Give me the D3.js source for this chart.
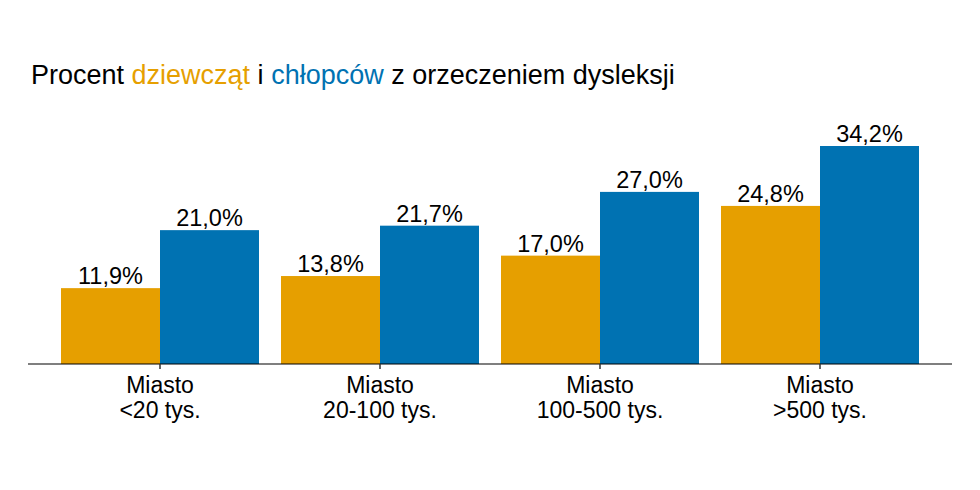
<!DOCTYPE html>
<html>
<head>
<meta charset="utf-8">
<script src="https://cdn.jsdelivr.net/npm/d3@7"></script>
<style>
  body { margin: 0; background: #fff; }
  svg text { font-family: "Liberation Sans", Arial, sans-serif; }
</style>
</head>
<body>
<div id="chart"></div>
<script>
const categories = ['Miasto\n<20 tys.', 'Miasto\n20-100 tys.', 'Miasto\n100-500 tys.', 'Miasto\n>500 tys.'];
const series = ['dziewczęta', 'chłopcy'];
const girls = [11.9, 13.8, 17.0, 24.8];
const boys = [21.0, 21.7, 27.0, 34.2];
const colors = ['#E69F00', '#0072B2'];

const width = 980;
const height = 490;

const svg = d3.select('#chart')
  .append('svg')
  .attr('width', width)
  .attr('height', height);

// title with coloured words
const title = svg.append('text')
  .attr('x', 31)
  .attr('y', 84)
  .style('font-size', '27px')
  .style('fill', '#000');
title.append('tspan').text('Procent ');
title.append('tspan').style('fill', colors[0]).text('dziewcząt');
title.append('tspan').text(' i ');
title.append('tspan').style('fill', colors[1]).text('chłopców');
title.append('tspan').text(' z orzeczeniem dysleksji');

const x = d3.scaleBand()
  .domain(categories)
  .range([50, 930])
  .paddingInner(0.1)
  .paddingOuter(0.05);

const xInner = d3.scaleBand()
  .domain(series)
  .range([0, x.bandwidth()]);

const y = d3.scaleLinear()
  .domain([0, 34.2])
  .range([364, 146]);

const rows = categories.map((c, i) => ({
  category: c,
  values: [
    { key: series[0], value: girls[i] },
    { key: series[1], value: boys[i] },
  ],
}));

const fmt = (v) => `${v.toFixed(1).replace('.', ',')}%`;

const groups = svg.selectAll('g.group')
  .data(rows)
  .enter()
  .append('g')
  .attr('class', 'group')
  .attr('transform', (d) => `translate(${x(d.category)},0)`);

groups.selectAll('rect')
  .data((d) => d.values)
  .enter()
  .append('rect')
  .attr('x', (d) => xInner(d.key))
  .attr('y', (d) => y(d.value))
  .attr('width', xInner.bandwidth())
  .attr('height', (d) => y(0) - y(d.value))
  .style('fill', (d, i) => colors[i]);

groups.selectAll('text.value')
  .data((d) => d.values)
  .enter()
  .append('text')
  .attr('class', 'value')
  .attr('x', (d) => xInner(d.key) + xInner.bandwidth() / 2)
  .attr('y', (d) => y(d.value) - 4)
  .attr('text-anchor', 'middle')
  .style('font-size', '23.5px')
  .style('fill', '#000')
  .text((d) => fmt(d.value));

// baseline
svg.append('line')
  .attr('x1', 28)
  .attr('x2', 952)
  .attr('y1', y(0))
  .attr('y2', y(0))
  .style('stroke', '#000')
  .style('stroke-width', 1.2);

const axis = svg.append('g')
  .attr('transform', `translate(0,${y(0)})`)
  .call(d3.axisBottom(x).tickSize(5).tickFormat(''));
axis.select('.domain').remove();
axis.selectAll('.tick line').style('stroke', '#333').style('stroke-width', 1.5);

axis.selectAll('.tick')
  .append('text')
  .attr('text-anchor', 'middle')
  .style('font-size', '23px')
  .style('fill', '#000')
  .each(function (d) {
    const lines = d.split('\n');
    d3.select(this).selectAll('tspan')
      .data(lines)
      .enter()
      .append('tspan')
      .attr('x', 0)
      .attr('y', (l, i) => 29 + i * 25)
      .text((l) => l);
  });
</script>
</body>
</html>
